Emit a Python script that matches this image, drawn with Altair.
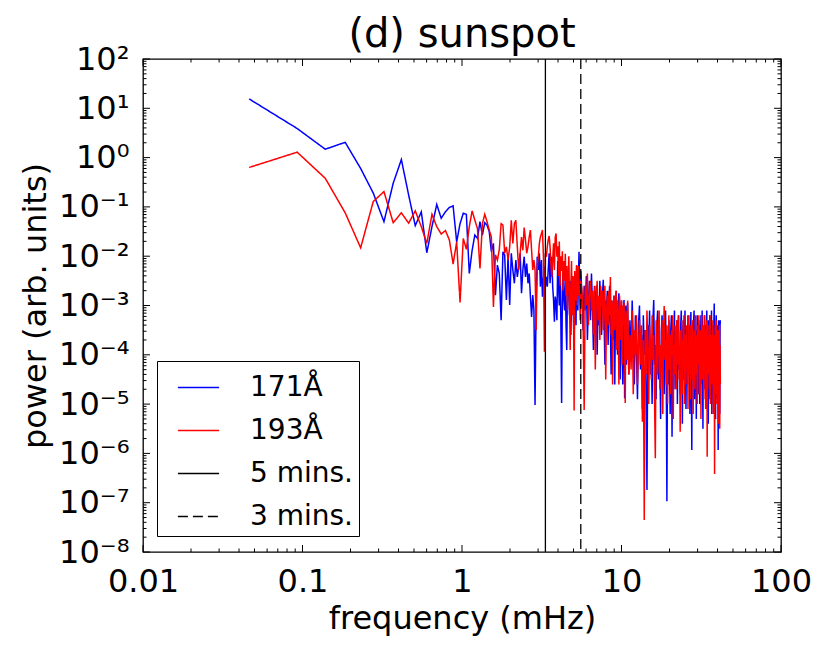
import altair as alt
import pandas as pd

# ---------------- data ----------------
DF_MHZ = 1000.0 / 21600.0          # FFT frequency resolution in mHz (6 h series)
SERIES = ["171Å", "193Å", "5 mins.", "3 mins."]

# FFT bin numbers that are drawn (all low bins, thinner sampling where the band is dense)
bins_lo = list(range(1, 121))
bins_mid = list(range(122, 241, 2))
bins_hi = list(range(244, 901, 4))
bins = bins_lo + bins_mid + bins_hi

# log10(power), 171 Å
blue_log = [
    1.19, 0.59, 0.17, 0.31, -0.22, -0.72, -1.30, -0.52, -0.04, -0.76,
    -1.38, -1.10, -1.93, -1.40, -0.95, -1.23, -1.10, -1.01, -0.98, -1.71,
    -1.34, -1.13, -1.15, -2.35, -1.88, -1.57, -1.64, -1.30, -1.57, -1.32,
    -1.37, -1.50, -1.91, -1.74, -2.79, -2.18, -2.35, -3.30, -1.91, -1.98,
    -2.89, -2.01, -2.99, -1.94, -2.28, -2.55, -2.08, -2.42, -2.21, -1.94,
    -2.75, -2.28, -2.01, -2.42, -2.15, -2.55, -2.35, -2.82, -3.23, -2.79,
    -3.09, -5.02, -2.89, -2.01, -2.28, -1.94, -2.62, -2.08, -2.82, -2.48,
    -2.21, -2.62, -2.42, -2.62, -2.28, -1.94, -2.55, -2.21, -2.01, -2.62,
    -2.89, -3.33, -2.82, -2.96, -3.30, -2.10, -2.60, -3.00, -2.40, -3.30,
    -4.98, -2.70, -2.20, -2.90, -3.10, -2.50, -3.40, -3.90, -2.60, -2.30,
    -2.80, -3.20, -2.50, -3.60, -2.70, -3.00, -2.40, -3.30, -3.80, -2.60,
    -2.90, -3.40, -2.20, -2.70, -3.10, -2.40, -1.91, -2.50, -3.00, -2.30,
    # bins 122..240 step 2
    -2.80, -3.50, -2.60, -3.10, -2.40, -3.70, -2.90, -2.50, -3.30, -2.35,
    -3.00, -3.90, -2.70, -3.20, -2.60, -4.00, -2.90, -3.40, -2.50, -3.10,
    -3.60, -2.80, -2.48, -3.30, -4.20, -2.90, -3.10, -2.70, -3.80, -3.00,
    -2.60, -3.50, -4.40, -2.90, -3.20, -3.70, -2.80, -4.60, -3.10, -2.70,
    -3.40, -4.00, -3.00, -2.75, -3.60, -4.50, -3.20, -2.90, -3.90, -4.60,
    -3.10, -2.89, -4.88, -3.50, -3.00, -4.20, -3.30, -2.95, -3.80, -4.40,
    # bins 244..900 step 4
    -3.30, -4.10, -2.90, -3.70, -4.60, -3.20, -3.90, -4.90, -3.40, -3.00,
    -4.30, -3.60, -5.10, -3.20, -4.00, -3.50, -4.70, -6.74, -3.40, -3.90,
    -3.10, -4.40, -3.70, -5.00, -3.30, -2.89, -4.20, -3.80, -4.90, -3.40,
    -3.10, -4.50, -3.80, -4.10, -5.30, -3.50, -3.20, -4.30, -3.90, -4.80,
    -3.40, -3.10, -4.20, -6.97, -3.70, -4.60, -3.30, -4.00, -5.20, -3.50,
    -3.20, -5.66, -3.90, -4.40, -3.60, -3.10, -4.70, -3.80, -4.20, -3.30,
    -5.00, -3.70, -3.20, -4.30, -3.90, -4.80, -3.40, -3.10, -4.10, -5.40,
    -3.60, -3.30, -4.50, -3.80, -3.10, -4.20, -5.10, -3.50, -3.90, -4.60,
    -3.20, -3.70, -4.40, -3.40, -5.20, -3.90, -3.13, -4.30, -5.93, -3.60,
    -3.80, -4.50, -3.30, -3.10, -4.90, -3.70, -4.20, -3.50, -5.30, -3.90,
    -3.20, -4.40, -3.60, -4.80, -3.30, -3.90, -5.00, -3.40, -4.10, -3.20,
    -4.60, -3.70, -3.10, -4.30, -5.50, -3.50, -3.90, -4.70, -3.20, -3.60,
    -4.20, -3.40, -5.10, -3.80, -3.10, -4.50, -3.60, -4.00, -5.40, -3.30,
    -3.70, -4.40, -3.20, -4.90, -3.50, -3.90, -4.60, -3.10, -5.20, -3.80,
    -3.40, -4.30, -3.60, -5.00, -3.30, -2.96, -4.50, -3.70, -4.10, -5.30,
    -3.50, -3.20, -4.40, -3.80, -4.90, -3.40, -3.90, -5.93, -3.60, -3.30,
    -4.60, -3.50, -5.20, -3.40, -3.30,
]

# log10(power), 193 Å
red_log = [
    -0.20, 0.11, -0.42, -1.12, -1.83, -0.89, -0.69, -1.32, -1.12, -1.33,
    -1.08, -1.40, -1.74, -1.15, -1.40, -1.55, -1.48, -1.67, -2.16, -1.71,
    -2.94, -1.64, -1.86, -1.40, -1.08, -1.27, -1.44, -2.25, -1.34, -1.15,
    -1.30, -1.47, -1.61, -3.03, -1.97, -2.08, -1.87, -1.34, -1.37, -1.94,
    -1.81, -2.08, -1.81, -1.27, -1.74, -1.34, -1.27, -1.81, -2.28, -1.94,
    -1.61, -1.88, -1.42, -1.67, -1.94, -1.81, -1.61, -1.47, -1.88, -2.28,
    -2.08, -2.28, -3.50, -2.21, -2.01, -1.74, -1.61, -1.54, -1.47, -2.01,
    -3.94, -1.94, -2.01, -1.81, -1.67, -1.59, -1.81, -2.15, -2.42, -2.08,
    -1.74, -2.28, -1.61, -1.54, -2.01, -1.80, -2.40, -1.70, -2.60, -2.00,
    -2.30, -1.90, -2.70, -2.10, -2.50, -1.95, -2.80, -2.20, -3.10, -2.40,
    -2.00, -2.90, -3.90, -2.60, -2.10, -3.20, -2.40, -2.70, -5.13, -2.30,
    -2.50, -2.90, -2.18, -3.00, -2.40, -2.20, -2.80, -2.60, -3.30, -2.50,
    # bins 122..240 step 2
    -2.70, -3.20, -5.12, -2.60, -3.00, -2.35, -3.40, -2.80, -2.50, -3.10,
    -2.70, -3.60, -2.60, -4.30, -2.90, -2.50, -3.30, -2.80, -3.70, -2.60,
    -3.00, -2.70, -3.50, -2.90, -2.60, -4.50, -3.10, -2.80, -3.40, -2.70,
    -3.20, -2.42, -3.60, -2.90, -4.60, -3.00, -2.80, -3.50, -3.10, -2.70,
    -3.90, -2.90, -3.30, -4.60, -2.80, -3.20, -3.70, -2.90, -4.20, -3.00,
    -3.40, -2.95, -3.80, -4.98, -3.10, -3.50, -4.10, -2.90, -3.60, -4.40,
    # bins 244..900 step 4
    -3.60, -4.30, -3.10, -4.80, -3.50, -4.00, -3.20, -4.60, -3.80, -3.30,
    -4.20, -3.40, -5.36, -3.70, -7.35, -3.50, -4.40, -3.10, -3.90, -5.00,
    -3.40, -3.80, -4.50, -3.20, -4.10, -3.60, -4.90, -6.10, -3.30, -3.90,
    -4.40, -3.50, -3.10, -4.70, -3.80, -4.20, -3.30, -5.20, -3.60, -3.01,
    -4.10, -3.70, -4.60, -3.40, -5.00, -3.90, -3.20, -4.30, -3.60, -4.80,
    -3.50, -4.00, -3.20, -5.30, -3.80, -4.40, -3.40, -3.90, -4.70, -3.30,
    -4.20, -3.60, -3.20, -4.50, -3.90, -5.56, -3.50, -4.10, -3.30, -4.80,
    -3.70, -4.30, -3.20, -5.00, -3.60, -3.90, -4.60, -3.40, -4.20, -3.80,
    -5.10, -3.50, -3.20, -4.40, -3.70, -4.90, -3.40, -4.00, -3.60, -4.50,
    -3.30, -5.20, -3.80, -4.10, -3.50, -4.70, -3.20, -3.90, -4.40, -3.60,
    -5.00, -3.40, -4.20, -3.70, -3.20, -4.80, -3.90, -4.30, -3.50, -5.30,
    -3.60, -3.20, -4.50, -3.80, -4.10, -3.40, -4.90, -3.70, -3.20, -4.30,
    -3.90, -5.10, -3.50, -4.20, -3.30, -6.07, -3.80, -4.40, -3.60, -4.00,
    -3.40, -4.70, -3.80, -3.20, -5.00, -3.60, -4.30, -3.90, -4.60, -3.50,
    -4.10, -3.30, -5.20, -3.70, -4.40, -3.60, -6.42, -3.90, -3.40, -4.80,
    -3.60, -4.20, -3.30, -5.00, -3.80, -4.50, -3.50, -3.90, -5.40, -3.70,
    -4.30, -3.40, -5.50, -3.80, -4.60,
]

assert len(blue_log) == len(bins), (len(blue_log), len(bins))
assert len(red_log) == len(bins), (len(red_log), len(bins))

# oscillation periods marked by vertical lines (minutes)
periods_min = [5, 3]

# axis ticks
x_major = [0.01, 0.1, 1, 10, 100]
y_major = [1e-8, 1e-7, 1e-6, 1e-5, 1e-4, 1e-3, 1e-2, 1e-1, 1e0, 1e1, 1e2]
x_minor = [m * 10.0 ** e for e in range(-2, 2) for m in range(2, 10)]
y_minor = [m * 10.0 ** e for e in range(-8, 2) for m in range(2, 10)]

# ---------------- tables ----------------
rows = []
for name, vals in (("171Å", blue_log), ("193Å", red_log)):
    for k, v in zip(bins, vals):
        rows.append({"series": name, "freq": k * DF_MHZ, "power": 10.0 ** v})
spec_df = pd.DataFrame(rows)
vline_df = pd.DataFrame({"series": ["5 mins.", "3 mins."],
                         "freq": [1000.0 / (p * 60) for p in periods_min]})

W, H = 638, 493
FONT = "DejaVu Sans"

xscale = alt.Scale(type="log", domain=[0.01, 100], nice=False)
yscale = alt.Scale(type="log", domain=[1e-8, 1e2], nice=False)
cscale = alt.Scale(domain=SERIES, range=["#0000ff", "#ff0000", "#000000", "#000000"])
dscale = alt.Scale(domain=SERIES, range=[[1, 0], [1, 0], [1, 0], [10, 5]])

legend = alt.Legend(
    title=None, orient="none", legendX=14, legendY=302,
    symbolType="stroke", symbolSize=1700, symbolStrokeWidth=1.5,
    labelFontSize=28, labelFont=FONT, labelColor="black",
    strokeColor="black", fillColor="white", padding=5, rowPadding=7,
    symbolOffset=15, labelOffset=30, cornerRadius=0,
)

sup_expr = (
    "'10' + (round(log(datum.value)/LN10) < 0 ? '⁻' : '') + "
    "substring('⁰¹²³⁴⁵⁶⁷⁸⁹', abs(round(log(datum.value)/LN10)), abs(round(log(datum.value)/LN10)) + 1)"
)

x_axis = alt.Axis(values=x_major, format="~g", title="frequency (mHz)",
                  ticks=False, domain=False, grid=False, labelFlush=False,
                  labelOverlap=False, labelPadding=14, titlePadding=6)
y_axis = alt.Axis(values=y_major, labelExpr=sup_expr, title="power (arb. units)",
                  ticks=False, domain=False, grid=False, labelFlush=False,
                  labelOverlap=False, labelPadding=14, titlePadding=6)

lines = alt.Chart(spec_df).mark_line(strokeWidth=1.5, clip=True).encode(
    x=alt.X("freq:Q", scale=xscale, axis=x_axis),
    y=alt.Y("power:Q", scale=yscale, axis=y_axis),
    color=alt.Color("series:N", scale=cscale, legend=legend),
    strokeDash=alt.StrokeDash("series:N", scale=dscale, legend=legend),
    detail="series:N",
    order=alt.Order("freq:Q"),
)

vlines = alt.Chart(vline_df).mark_rule(strokeWidth=1.3).encode(
    x=alt.X("freq:Q", scale=xscale, axis=x_axis),
    color=alt.Color("series:N", scale=cscale, legend=legend),
    strokeDash=alt.StrokeDash("series:N", scale=dscale, legend=legend),
)


def xticks(vals, length):
    d = pd.DataFrame({"t": vals})
    base = alt.Chart(d).mark_rule(color="black", strokeWidth=1)
    bottom = base.encode(x=alt.X("t:Q", scale=xscale, axis=x_axis),
                         y=alt.value(H), y2=alt.value(H - length))
    top = base.encode(x=alt.X("t:Q", scale=xscale, axis=x_axis),
                      y=alt.value(0), y2=alt.value(length))
    return [bottom, top]


def yticks(vals, length):
    d = pd.DataFrame({"t": vals})
    base = alt.Chart(d).mark_rule(color="black", strokeWidth=1)
    left = base.encode(y=alt.Y("t:Q", scale=yscale, axis=y_axis),
                       x=alt.value(0), x2=alt.value(length))
    right = base.encode(y=alt.Y("t:Q", scale=yscale, axis=y_axis),
                        x=alt.value(W), x2=alt.value(W - length))
    return [left, right]


tick_layers = xticks(x_major, 7) + xticks(x_minor, 3.5) + yticks(y_major, 7) + yticks(y_minor, 3.5)

chart = alt.layer(lines, vlines, *tick_layers).properties(
    width=W, height=H,
    title=alt.TitleParams("(d) sunspot", fontSize=40, font=FONT, fontWeight="normal",
                          anchor="middle", color="black", offset=-12),
    padding={"left": 135, "top": 51, "right": 40, "bottom": 90},
    autosize=alt.AutoSizeParams(type="none"),
).configure_view(
    stroke="black", strokeWidth=1.3,
).configure_axis(
    labelFont=FONT, titleFont=FONT, labelFontSize=32, titleFontSize=32,
    labelColor="black", titleColor="black", titleFontWeight="normal",
)

chart.save("out.html", embed_options={"renderer": "svg", "actions": False})
